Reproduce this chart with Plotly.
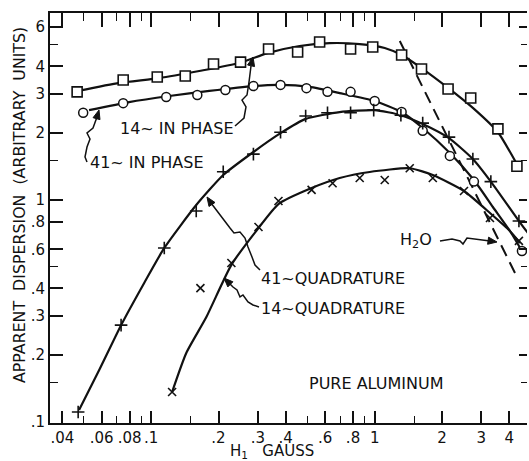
import math
import plotly.graph_objects as go

# ---------------- data ----------------
# 14~ in phase (open squares)
sq_x = [0.0466, 0.0749, 0.1064, 0.142, 0.190, 0.251, 0.335, 0.452, 0.567, 0.780, 0.98, 1.32, 1.62, 2.13, 2.69, 3.56, 4.33]
sq_y = [3.07, 3.47, 3.58, 3.62, 4.10, 4.18, 4.79, 4.64, 5.15, 4.79, 4.89, 4.50, 3.89, 3.16, 2.88, 2.09, 1.42]
sq_fit_x = [0.0471, 0.0719, 0.1086, 0.164, 0.248, 0.331, 0.461, 0.628, 0.857, 1.109, 1.32, 1.62, 2.13, 2.75, 3.56, 4.33]
sq_fit_y = [3.10, 3.37, 3.54, 3.81, 4.14, 4.59, 4.94, 5.09, 5.04, 4.84, 4.50, 3.93, 3.20, 2.60, 2.02, 1.45]

# 41~ in phase (open circles)
ci_x = [0.0496, 0.0749, 0.1167, 0.1608, 0.2147, 0.2866, 0.379, 0.495, 0.615, 0.780, 1.0, 1.32, 1.64, 2.17, 2.78, 4.56]
ci_y = [2.47, 2.73, 2.91, 2.97, 3.13, 3.26, 3.30, 3.19, 3.07, 3.07, 2.79, 2.49, 2.05, 1.58, 1.21, 0.589]
ci_fit_x = [0.0527, 0.0796, 0.1204, 0.182, 0.2866, 0.379, 0.511, 0.697, 1.0, 1.32, 1.64, 2.17, 2.78, 3.38, 4.03, 4.56]
ci_fit_y = [2.54, 2.76, 2.94, 3.10, 3.26, 3.30, 3.23, 3.03, 2.79, 2.49, 2.11, 1.628, 1.23, 0.930, 0.725, 0.589]

# 41~ quadrature (plus signs)
pl_x = [0.0471, 0.0733, 0.1144, 0.159, 0.210, 0.2866, 0.379, 0.491, 0.615, 0.780, 0.99, 1.31, 1.64, 2.15, 2.75, 3.31, 4.42]
pl_y = [0.111, 0.273, 0.608, 0.892, 1.34, 1.61, 2.02, 2.39, 2.47, 2.47, 2.54, 2.41, 2.22, 1.92, 1.53, 1.21, 0.804]
pl_fit_x = [0.04754, 0.0585, 0.0733, 0.0930, 0.1144, 0.159, 0.210, 0.2866, 0.379, 0.491, 0.697, 1.0, 1.31, 1.64, 2.15, 2.75, 3.31, 4.42, 4.85]
pl_fit_y = [0.1133, 0.1715, 0.273, 0.423, 0.608, 0.949, 1.296, 1.645, 2.00, 2.32, 2.49, 2.54, 2.41, 2.20, 1.90, 1.53, 1.21, 0.804, 0.710]

# 14~ quadrature (x marks)
xm_x = [0.124, 0.166, 0.2284, 0.302, 0.371, 0.522, 0.648, 0.857, 1.109, 1.435, 1.82, 2.51, 3.28, 4.42]
xm_y = [0.1365, 0.401, 0.520, 0.756, 0.99, 1.11, 1.19, 1.256, 1.23, 1.39, 1.256, 1.098, 0.830, 0.654]
xm_fit_x = [0.124, 0.1435, 0.1765, 0.2284, 0.302, 0.371, 0.522, 0.697, 0.950, 1.435, 1.82, 2.51, 3.28, 4.03, 4.47]
xm_fit_y = [0.1365, 0.2046, 0.297, 0.510, 0.748, 0.959, 1.132, 1.256, 1.337, 1.39, 1.296, 1.098, 0.874, 0.725, 0.640]

# H2O reference (dashed)
h2o_x = [1.295, 4.29]
h2o_y = [5.20, 0.459]

# axis ticks
x_tick_vals = [0.04, 0.06, 0.08, 0.1, 0.2, 0.3, 0.4, 0.6, 0.8, 1, 2, 3, 4]
x_tick_text = [".04", ".06", ".08", ".1", ".2", ".3", ".4", ".6", ".8", "1", "2", "3", "4"]
x_minor_vals = [0.05, 0.07, 0.09, 0.15, 0.5, 0.7, 0.9, 1.5]
y_tick_vals = [0.1, 0.2, 0.3, 0.4, 0.6, 0.8, 1, 2, 3, 4, 6]
y_tick_text = [".1", ".2", ".3", ".4", ".6", ".8", "1", "2", "3", "4", "6"]
y_minor_vals = [0.15, 0.5, 1.5, 5]

# ---------------- layout geometry ----------------
W, H = 529, 461
ML, MR, MT, MB = 50, 2, 13, 38
PW, PH = W - ML - MR, H - MT - MB
X_RANGE = [-1.453, 0.6816]
Y_RANGE = [-1.0045, 0.8423]
FONT = "DejaVu Sans"
INK = "#111111"


def px(xp):
    return (xp - ML) / PW


def py(yp):
    return (MT + PH - yp) / PH


fig = go.Figure()

line_style = dict(color=INK, width=2.2, shape="spline", smoothing=0.55)
for fx, fy in [(sq_fit_x, sq_fit_y), (ci_fit_x, ci_fit_y), (pl_fit_x, pl_fit_y), (xm_fit_x, xm_fit_y)]:
    fig.add_trace(go.Scatter(x=fx, y=fy, mode="lines", line=line_style, hoverinfo="skip", showlegend=False))

fig.add_trace(go.Scatter(x=h2o_x, y=h2o_y, mode="lines", line=dict(color=INK, width=2, dash="12px,7px"),
                         showlegend=False))

fig.add_trace(go.Scatter(x=sq_x, y=sq_y, mode="markers", showlegend=False,
                         marker=dict(symbol="square", size=10, color="white", line=dict(color=INK, width=1.6))))
fig.add_trace(go.Scatter(x=ci_x, y=ci_y, mode="markers", showlegend=False,
                         marker=dict(symbol="circle", size=9, color="white", line=dict(color=INK, width=1.5))))
fig.add_trace(go.Scatter(x=pl_x, y=pl_y, mode="markers", showlegend=False,
                         marker=dict(symbol="cross-thin", size=9, color=INK, line=dict(color=INK, width=1.6))))
fig.add_trace(go.Scatter(x=xm_x, y=xm_y, mode="markers", showlegend=False,
                         marker=dict(symbol="x-thin", size=8, color=INK, line=dict(color=INK, width=1.6))))

# invisible trace for the mirrored axes
fig.add_trace(go.Scatter(x=[1], y=[1], xaxis="x2", yaxis="y2", mode="markers",
                         marker=dict(opacity=0), showlegend=False, hoverinfo="skip"))

axis_common = dict(type="log", showgrid=False, zeroline=False, ticks="inside", tickcolor=INK,
                   tickwidth=1.6, linecolor=INK, linewidth=2)

fig.update_layout(
    width=W, height=H,
    margin=dict(l=ML, r=MR, t=MT, b=MB),
    paper_bgcolor="white", plot_bgcolor="white",
    font=dict(family=FONT, color=INK, size=15),
    xaxis=dict(**axis_common, range=X_RANGE, tickmode="array", tickvals=x_tick_vals, ticktext=x_tick_text,
               ticklen=12, showline=True, tickfont=dict(size=15), automargin=False,
               minor=dict(tickmode="array", tickvals=x_minor_vals, ticks="inside", ticklen=7,
                          tickwidth=1.4, tickcolor=INK)),
    yaxis=dict(**axis_common, range=Y_RANGE, tickmode="array", tickvals=y_tick_vals, ticktext=y_tick_text,
               ticklen=13, showline=True, tickfont=dict(size=15), automargin=False,
               minor=dict(tickmode="array", tickvals=y_minor_vals, ticks="inside", ticklen=8,
                          tickwidth=1.4, tickcolor=INK)),
    xaxis2=dict(**axis_common, range=X_RANGE, overlaying="x", side="top", anchor="y", showline=True,
                showticklabels=False, tickmode="array", tickvals=x_tick_vals, ticklen=14, automargin=False,
                minor=dict(tickmode="array", tickvals=x_minor_vals, ticks="inside", ticklen=8,
                           tickwidth=1.4, tickcolor=INK)),
    yaxis2=dict(type="log", range=Y_RANGE, overlaying="y", side="right", anchor="x", showline=False,
                showgrid=False, zeroline=False, showticklabels=False, ticks="inside", tickcolor=INK,
                tickwidth=1.6, tickmode="array", tickvals=y_tick_vals, ticklen=8, automargin=False,
                minor=dict(tickmode="array", tickvals=y_minor_vals, ticks="inside", ticklen=6,
                           tickwidth=1.4, tickcolor=INK)),
)

# ---------------- text labels ----------------
labels = [
    ("14~ IN PHASE", 118, 128),
    ("41~ IN PHASE", 88, 162),
    ("41~QUADRATURE", 259, 278),
    ("14~QUADRATURE", 259, 308),
    ("H<sub>2</sub>O", 398, 240),
    ("PURE ALUMINUM", 307, 383),
]
for txt, lx, ly in labels:
    fig.add_annotation(text=txt, xref="paper", yref="paper", x=px(lx), y=py(ly), xanchor="left",
                       yanchor="middle", showarrow=False, font=dict(size=16, family=FONT, color=INK))

fig.add_annotation(text="APPARENT  DISPERSION  (ARBITRARY  UNITS)", xref="paper", yref="paper",
                   x=px(19), y=py(205), textangle=-90, showarrow=False, xanchor="center", yanchor="middle",
                   font=dict(size=15.8, family=FONT, color=INK))
fig.add_annotation(text="H<sub>1</sub>   GAUSS", xref="paper", yref="paper", x=px(272), y=py(451),
                   showarrow=False, xanchor="center", yanchor="middle", font=dict(size=15, family=FONT, color=INK))

# ---------------- squiggly pointer arrows (pixel positions) ----------------
pointers = [
    [(235, 126), (244, 118), (246, 107), (242, 100), (247, 95), (249, 82), (251, 66)],
    [(87, 162), (85, 157), (87, 147), (90, 139), (87, 133), (93, 128), (97, 117)],
    [(260, 270), (255, 265), (252, 257), (248, 247), (245, 238), (240, 232), (234, 233), (230, 228), (211, 203)],
    [(259, 307), (253, 305), (248, 302), (243, 295), (240, 297), (237, 290), (233, 287), (228, 282)],
    [(440, 241), (452, 239), (460, 241), (463, 244), (467, 238), (490, 241)],
]
tips = [(253, 57), (99, 110), (207, 197), (224, 278), (497, 242)]

for pts, tip in zip(pointers, tips):
    path = "M " + " L ".join(f"{px(a):.5f},{py(b):.5f}" for a, b in pts)
    fig.add_shape(type="path", path=path, xref="paper", yref="paper", line=dict(color=INK, width=1.5))
    # arrow head as a small filled triangle
    lx, ly = pts[-1]
    dx, dy = tip[0] - lx, tip[1] - ly
    n = math.hypot(dx, dy) or 1.0
    ux, uy = dx / n, dy / n
    hl, hw = 9.0, 3.6
    bx, by = tip[0] - ux * hl, tip[1] - uy * hl
    p1 = (bx - uy * hw, by + ux * hw)
    p2 = (bx + uy * hw, by - ux * hw)
    head = (f"M {px(tip[0]):.5f},{py(tip[1]):.5f} L {px(p1[0]):.5f},{py(p1[1]):.5f} "
            f"L {px(p2[0]):.5f},{py(p2[1]):.5f} Z")
    fig.add_shape(type="path", path=head, xref="paper", yref="paper", fillcolor=INK,
                  line=dict(color=INK, width=1))

fig.write_html("out.html", post_script="document.body.style.margin='0';",
               config={"displayModeBar": False})
